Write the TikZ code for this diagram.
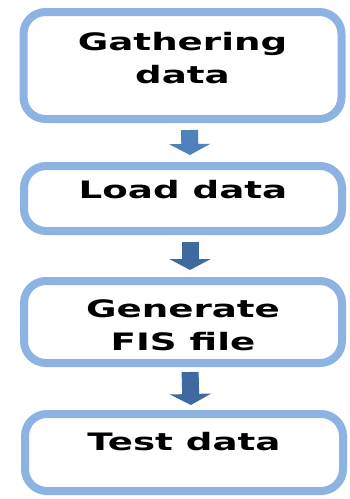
\documentclass[tikz,border=0pt]{standalone}
\usepackage{fontspec}
\usetikzlibrary{arrows.meta}
\newfontfamily\stagefont{DejaVu Sans}[FakeStretch=1.55]
\definecolor{stageborder}{HTML}{8DB3E2}
\definecolor{flowlight}{HTML}{4F81BD}
\definecolor{flowdark}{HTML}{3F6A9F}
\begin{document}
\begin{tikzpicture}[x=1pt,y=1pt]
    \tikzstyle{stage}=[rectangle,draw=stageborder,line width=8pt,fill=white,
      rounded corners=22pt,minimum width=318pt,align=center,text depth=18pt,
      font=\stagefont\bfseries\fontsize{24}{33}\selectfont]
    \tikzstyle{flow}=[line width=17pt,shorten <=7pt,shorten >=7pt,
      -{Triangle[width=41pt,length=11pt]}]

    \useasboundingbox (0,0) rectangle (349,-499);

    % process steps
    \node[stage,minimum height=107pt,text height=53pt] (gather) at (182.5,-65.5) {Gathering\\data};
    \node[stage,minimum height=65pt,text height=18pt] (load) at (183,-198.5) {Load data};
    \node[stage,minimum height=82pt,text height=65pt,text depth=9pt] (fis) at (183,-322) {Generate\\FIS file};
    \node[stage,minimum height=77pt,text height=18pt,text depth=23pt] (test) at (184,-452.5) {Test data};

    % block arrows between the steps
    \draw[flow,draw=flowlight,fill=flowlight] ([xshift=7pt]gather.south) -- ([xshift=7pt]load.north);
    \draw[flow,draw=flowdark,fill=flowdark] ([xshift=7pt]load.south) -- ([xshift=7pt]fis.north);
    \draw[flow,draw=flowdark,fill=flowdark,shorten <=5pt,shorten >=5pt] ([xshift=7pt]fis.south) -- ([xshift=7pt]test.north);
\end{tikzpicture}
\end{document}
